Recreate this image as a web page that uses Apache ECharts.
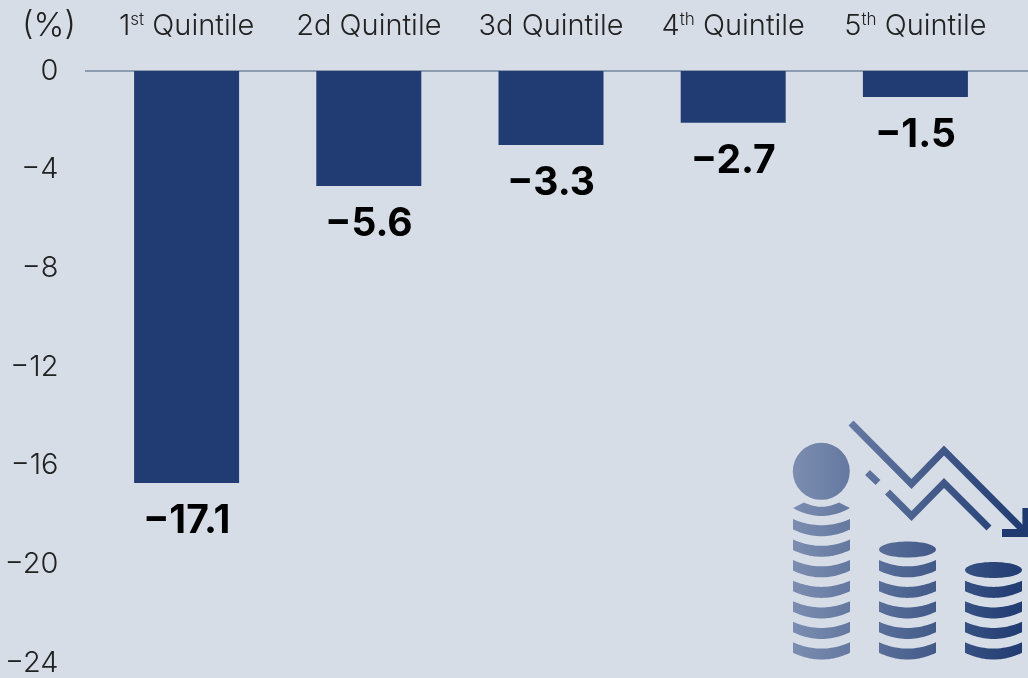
<!DOCTYPE html>
<html>
<head>
<meta charset="utf-8">
<title>Quintile chart</title>
<script src="https://cdn.jsdelivr.net/npm/echarts@6/dist/echarts.min.js"></script>
<style>
html,body{margin:0;padding:0;background:#d6dde7;}
#chart{width:1028px;height:678px;}
</style>
</head>
<body>
<div id="chart"></div>
<script>
//categories
var categories = ['1{sup|st} Quintile', '2d Quintile', '3d Quintile', '4{sup|th} Quintile', '5{sup|th} Quintile'];
//bar lengths as drawn in the picture
var barValues = [-16.7, -4.66, -3.0, -2.1, -1.05];
//numbers printed under the bars
var printedValues = ['−17.1', '−5.6', '−3.3', '−2.7', '−1.5'];
//y axis
var yMin = -24;
var yMax = 0;
var yStep = 4;

var FONT = 'Inter, Lato, sans-serif';
var myChart = echarts.init(document.getElementById('chart'));

//icon gradient runs over the whole icon
var iconGrad = {
	type: 'linear', global: true, x: 793, y: 0, x2: 1026, y2: 0,
	colorStops: [{offset: 0, color: '#7b8db0'}, {offset: 1, color: '#1f3a71'}]
};

//points of a quadratic curve, without the first one
var curve = function(x0, y0, cx, cy, x1, y1) {
	var pts = [];
	for (var i = 1; i <= 24; i++) {
		var t = i / 24, u = 1 - t;
		pts.push([u * u * x0 + 2 * u * t * cx + t * t * x1, u * u * y0 + 2 * u * t * cy + t * t * y1]);
	}
	return pts;
};
var iconW = 57;
//one coin slice, x = left edge, y = top of the edge
var slice = function(x, y) {
	var r = x + iconW, m = x + iconW / 2;
	var pts = [[x, y]].concat(curve(x, y, m, y + 12.5, r, y));
	pts.push([r, y + 10.5]);
	pts = pts.concat(curve(r, y + 10.5, m, y + 24, x, y + 10.5));
	return {type: 'polygon', shape: {points: pts}, style: {fill: iconGrad}};
};
var lid = function(x, cy) {
	return {type: 'ellipse', shape: {cx: x + iconW / 2, cy: cy, rx: iconW / 2, ry: 8}, style: {fill: iconGrad}};
};
var stack = function(x, n) {
	var list = [];
	for (var i = 0; i < n; i++) {
		list.push(slice(x, 642.3 - i * 20.55));
	}
	return list;
};
var arrow = function(points) {
	return {type: 'polyline', shape: {points: points}, style: {stroke: iconGrad, fill: null, lineWidth: 7}};
};

var option = {
	backgroundColor: '#d6dde7',
	animation: false,
	grid: {left: 95.5, width: 911, top: 71, height: 592},
	xAxis: {
		type: 'category',
		position: 'top',
		data: categories,
		axisLine: {show: false},
		axisTick: {show: false},
		axisLabel: {
			interval: 0,
			margin: 45,
			verticalAlign: 'middle',
			color: '#222222',
			fontFamily: FONT,
			fontSize: 29,
			fontWeight: 300,
			rich: {
				sup: {fontSize: 17, fontFamily: FONT, fontWeight: 300, color: '#222222', verticalAlign: 'top', padding: [0, 0, 10, 0]}
			}
		}
	},
	yAxis: {
		type: 'value',
		min: yMin,
		max: yMax,
		interval: yStep,
		name: '(%)',
		nameLocation: 'end',
		nameGap: 45,
		nameTextStyle: {color: '#222222', fontFamily: FONT, fontSize: 33, fontWeight: 300, align: 'center', verticalAlign: 'middle', padding: [0, 0, 0, -93]},
		axisLine: {show: false},
		axisTick: {show: false},
		splitLine: {show: false},
		axisLabel: {
			color: '#222222',
			fontFamily: FONT,
			fontSize: 29,
			fontWeight: 300,
			margin: 37,
			padding: [4, 0, 0, 0],
			formatter: function(v) {
				return String(v).replace('-', '−');
			}
		}
	},
	series: [{
		type: 'bar',
		data: barValues,
		barWidth: 105,
		itemStyle: {color: '#213c72'},
		label: {
			show: true,
			position: 'bottom',
			distance: 19,
			color: '#000000',
			fontFamily: FONT,
			fontSize: 39,
			fontWeight: 700,
			formatter: function(p) {
				return printedValues[p.dataIndex];
			}
		}
	}]
};
myChart.setOption(option);

//baseline runs past the plot on both sides
var zeroY = myChart.convertToPixel({yAxisIndex: 0}, 0);
var icon = [
	{type: 'line', z: 1, shape: {x1: 85, y1: zeroY, x2: 1028, y2: zeroY}, style: {stroke: '#75869f', lineWidth: 1.5}},
	{type: 'circle', shape: {cx: 821.3, cy: 471.3, r: 28.5}, style: {fill: iconGrad}},
	//crescent under the round coin
	{type: 'polygon', shape: {points: [[793, 508], [804, 502.5]].concat(curve(804, 502.5, 821.5, 511, 839, 502.5), [[850, 508]], curve(850, 508, 821.5, 524, 793, 508))}, style: {fill: iconGrad}},
	lid(879, 549.5),
	lid(965, 570),
	arrow([[851, 423], [911.5, 484], [944, 450.5], [1024, 531]]),
	arrow([[867.5, 472.5], [878, 482.5]]),
	arrow([[887.5, 492], [911.5, 516], [944, 483], [989, 528]]),
	{type: 'polyline', shape: {points: [[1002, 533], [1028, 533]]}, style: {stroke: '#1f3a71', fill: null, lineWidth: 8}},
	{type: 'polyline', shape: {points: [[1025.4, 508], [1025.4, 537]]}, style: {stroke: '#1f3a71', fill: null, lineWidth: 6}}
].concat(stack(793, 7), stack(879, 5), stack(965, 4));
myChart.setOption({graphic: icon});
</script>
</body>
</html>
